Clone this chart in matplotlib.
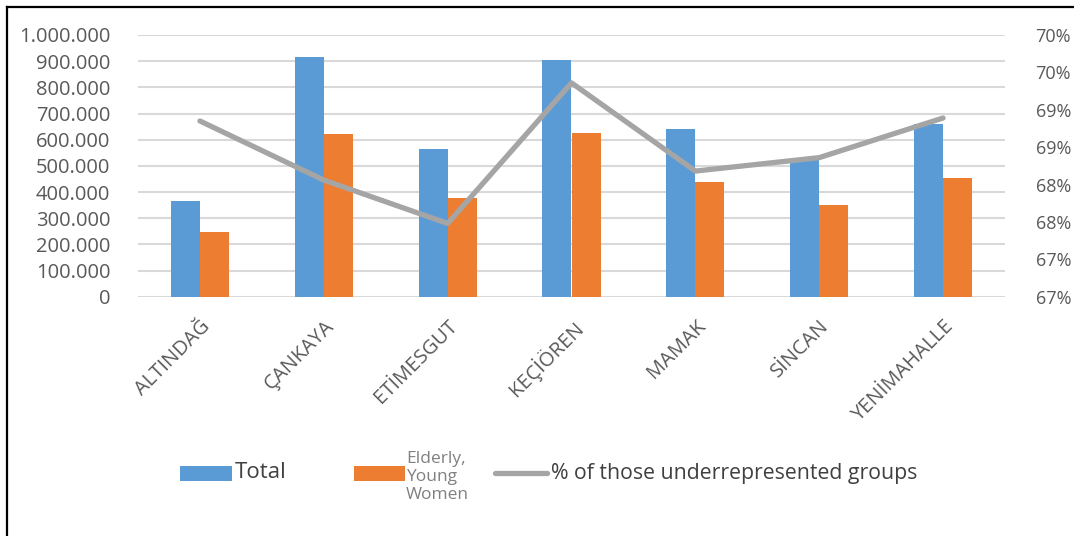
import math
import numpy as np
import matplotlib
matplotlib.use("Agg")
import matplotlib.pyplot as plt
from matplotlib.patches import Rectangle
from matplotlib.lines import Line2D
from matplotlib.ticker import FuncFormatter, MultipleLocator

plt.rcParams['font.family'] = ['Open Sans', 'DejaVu Sans']

# ---- data ----
districts = ['ALTINDAĞ', 'ÇANKAYA', 'ETİMESGUT', 'KEÇİÖREN', 'MAMAK', 'SİNCAN', 'YENİMAHALLE']
total = [366000, 917000, 566000, 903000, 642000, 522000, 660000]
elderly_young_women = [248000, 623000, 379000, 627000, 438000, 350000, 455000]
pct_underrep = [0.6885, 0.6806, 0.6748, 0.6936, 0.6818, 0.6836, 0.6889]

blue = '#5B9BD5'
orange = '#ED7D31'
grey_line = '#A5A5A5'
txt = '#595959'

W, H = 1074, 536
fig = plt.figure(figsize=(W / 100, H / 100), dpi=100)
ax = fig.add_axes([138 / W, (H - 296.7) / H, (1005 - 138) / W, 261.7 / H])

x = np.arange(len(districts))
bw = 0.235
ax.bar(x - bw / 2, total, bw, color=blue, zorder=2)
ax.bar(x + bw / 2, elderly_young_women, bw, color=orange, zorder=2)

ax.set_xlim(-0.5, len(districts) - 0.5)
ax.set_ylim(0, 1000000)
ax.yaxis.set_major_locator(MultipleLocator(100000))
ax.yaxis.set_major_formatter(FuncFormatter(lambda v, p: f"{int(v):,}".replace(',', '.')))
ax.grid(axis='y', color='#D9D9D9', linewidth=1.5, zorder=0)
ax.set_axisbelow(True)
for s in ax.spines.values():
    s.set_visible(False)
ax.tick_params(axis='both', length=0, labelcolor=txt)
ax.tick_params(axis='y', labelsize=14.5, pad=20)
ax.set_xticks(x)
ax.set_xticklabels(districts, rotation=45, ha='right', va='top',
                   rotation_mode='anchor', fontsize=14.5)
ax.tick_params(axis='x', pad=14)

# right axis for the percentage line
ax2 = ax.twinx()
ax2.set_ylim(0.665, 0.700)
ax2.yaxis.set_major_locator(MultipleLocator(0.005))
# excel rounds half up: 66.5 -> 67%
ax2.yaxis.set_major_formatter(FuncFormatter(lambda v, p: f"{int(math.floor(v * 100 + 0.5 + 1e-9))}%"))
for s in ax2.spines.values():
    s.set_visible(False)
ax2.tick_params(axis='y', length=0, labelcolor=txt, labelsize=13, pad=22)
ax2.plot(x, pct_underrep, color=grey_line, linewidth=3.8,
         solid_capstyle='round', solid_joinstyle='round', zorder=3)

# legend drawn by hand
def fx(px):
    return px / W

def fy(py):
    return (H - py) / H

fig.add_artist(Rectangle((fx(180), fy(481)), (232 - 180) / W, 15 / H,
                         facecolor=blue, transform=fig.transFigure))
fig.text(fx(235), fy(473), 'Total', fontsize=16, color='#404040', va='center', ha='left')
fig.add_artist(Rectangle((fx(354), fy(481)), (405 - 354) / W, 15 / H,
                         facecolor=orange, transform=fig.transFigure))
fig.text(fx(406), fy(477), 'Elderly,\nYoung\nWomen', fontsize=12.5, color='#808080',
         va='center', ha='left', linespacing=1.2)
fig.add_artist(Line2D([fx(495), fx(547)], [fy(473), fy(473)], color=grey_line,
                      linewidth=3.8, solid_capstyle='round', transform=fig.transFigure))
fig.text(fx(551), fy(473), '% of those underrepresented groups', fontsize=15.3,
         color='#404040', va='center', ha='left')

# border of the screenshot (top and left)
fig.add_artist(Line2D([fx(7), 1], [fy(7), fy(7)], color='black', linewidth=1.6,
                      transform=fig.transFigure))
fig.add_artist(Line2D([fx(7), fx(7)], [fy(7), 0], color='black', linewidth=1.6,
                      transform=fig.transFigure))

fig.savefig('out.png', dpi=100)
